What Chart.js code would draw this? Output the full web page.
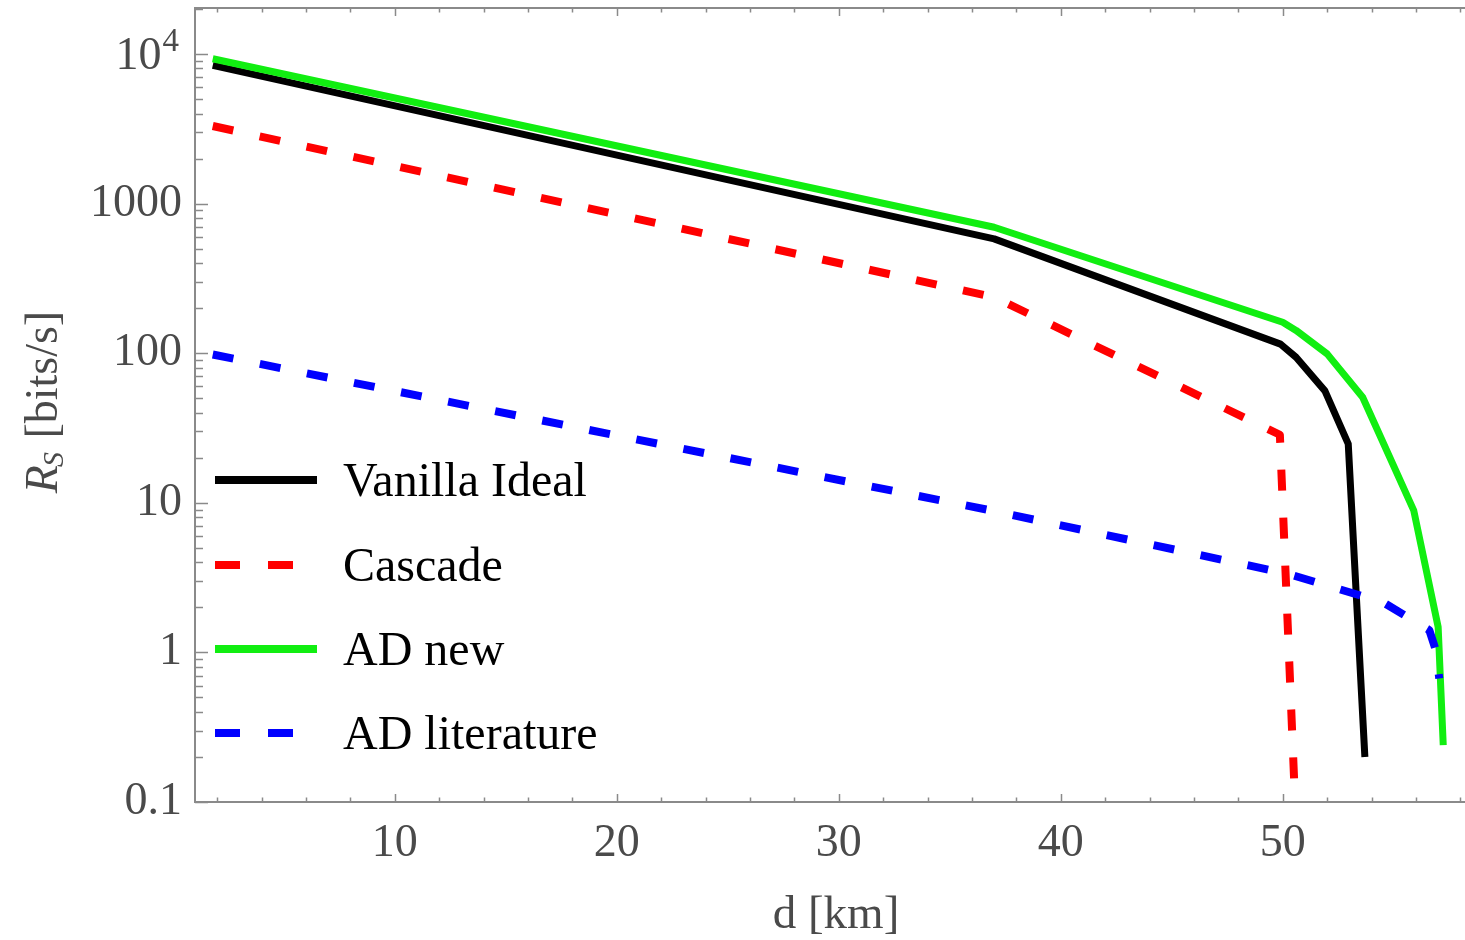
<!DOCTYPE html>
<html>
<head>
<meta charset="utf-8">
<script src="https://cdn.jsdelivr.net/npm/chart.js@4.4.0/dist/chart.umd.min.js"></script>
<style>
  html, body { margin: 0; padding: 0; background: #ffffff; overflow: hidden; }
  #wrap { position: relative; width: 1470px; height: 940px; }
</style>
</head>
<body>
<div id="wrap"><canvas id="c"></canvas></div>
<script>
// ---- data ----
const seriesNames = ['Vanilla Ideal', 'Cascade', 'AD new', 'AD literature'];

const vanillaD = [1.8, 37.0, 49.9, 50.6, 51.9, 52.95, 53.7];
const vanillaR = [8400, 581, 115, 94, 56, 24.8, 0.2];

const cascadeD = [1.8, 37.0, 49.87, 50.56];
const cascadeR = [3300, 237, 28.5, 0.095];

const adNewD = [1.8, 37.0, 50.0, 50.6, 52.0, 53.6, 55.9, 57.0, 57.23];
const adNewR = [9300, 695, 161, 142, 99, 50.8, 8.9, 1.48, 0.24];

const adLitD = [1.8, 37.0, 50.2, 54.5, 56.6, 56.9, 57.05];
const adLitR = [98, 8.8, 3.36, 2.17, 1.41, 1.03, 0.67];

const xMajorTicks = [10, 20, 30, 40, 50];
const xTickLabels = ['10', '20', '30', '40', '50'];
const xMinorStep = 2;
const yMajorTicks = [0.1, 1, 10, 100, 1000, 10000];
const yTickLabels = ['0.1', '1', '10', '100', '1000', ''];
// the top label is written as base with a raised exponent
const yPowerTick = 10000, yPowerBase = '10', yPowerExp = '4';

const xTitle = 'd [km]';
const yTitleMain = 'R';
const yTitleSub = 'S';
const yTitleRest = ' [bits/s]';

// ---- build ----
const toPts = (d, r) => d.map((v, i) => ({ x: v, y: r[i] }));
const SERIF = '"Liberation Serif", "DejaVu Serif", serif';
const TEXT_GRAY = '#4a4a4a';
const FRAME = '#8a8a8a';

const datasets = [
  { label: seriesNames[0], data: toPts(vanillaD, vanillaR), borderColor: '#000000', borderWidth: 7, borderDash: [], order: 4 },
  { label: seriesNames[1], data: toPts(cascadeD, cascadeR), borderColor: '#ff0000', borderWidth: 8, borderDash: [21, 27], order: 3 },
  { label: seriesNames[2], data: toPts(adNewD, adNewR), borderColor: '#11ee11', borderWidth: 7, borderDash: [], order: 2 },
  { label: seriesNames[3], data: toPts(adLitD, adLitR), borderColor: '#0000ff', borderWidth: 8, borderDash: [21, 27], order: 1 }
].map(ds => Object.assign(ds, {
  showLine: true, pointRadius: 0, pointHoverRadius: 0, fill: false,
  borderCapStyle: 'butt', borderJoinStyle: 'round', tension: 0, clip: 0
}));

const framePlugin = {
  id: 'framePlugin',
  afterDatasetsDraw(chart) {
    const { ctx, chartArea: a, scales: { x, y } } = chart;
    ctx.save();
    ctx.strokeStyle = FRAME;
    ctx.lineWidth = 2;
    ctx.beginPath();
    ctx.moveTo(a.right + 10, a.top); ctx.lineTo(a.left, a.top);
    ctx.lineTo(a.left, a.bottom); ctx.lineTo(a.right + 10, a.bottom);
    ctx.stroke();
    ctx.lineWidth = 1.5;
    ctx.beginPath();
    for (let v = xMinorStep; v <= x.max; v += xMinorStep) {
      const px = Math.round(x.getPixelForValue(v)) + 0.5;
      const major = xMajorTicks.includes(v);
      const L = major ? 8 : 4.5;
      ctx.moveTo(px, a.bottom); ctx.lineTo(px, a.bottom - L);
      ctx.moveTo(px, a.top); ctx.lineTo(px, a.top + L);
    }
    for (let k = -1; k <= 4; k++) {
      for (let m = 1; m <= 9; m++) {
        const v = m * Math.pow(10, k);
        if (v < y.min * 0.999 || v > y.max) continue;
        const py = Math.round(y.getPixelForValue(v)) + 0.5;
        const L = m === 1 ? 13 : 8;
        ctx.moveTo(a.left, py); ctx.lineTo(a.left + L, py);
      }
    }
    ctx.stroke();
    ctx.restore();
  },
  afterDraw(chart) {
    const { ctx, chartArea: a, scales: { y } } = chart;
    ctx.save();
    // power-of-ten tick label
    const py = y.getPixelForValue(yPowerTick);
    ctx.fillStyle = TEXT_GRAY;
    ctx.textBaseline = 'alphabetic';
    ctx.font = '33px ' + SERIF;
    const we = ctx.measureText(yPowerExp).width;
    ctx.textAlign = 'right';
    ctx.fillText(yPowerExp, a.left - 16, py - 3);
    ctx.font = '46px ' + SERIF;
    ctx.fillText(yPowerBase, a.left - 16 - we - 1, py + 15);
    // legend inside the plot
    const rowY = [480, 565, 649, 733];
    chart.data.datasets.forEach((ds, i) => {
      const yy = rowY[i];
      ctx.save();
      ctx.strokeStyle = ds.borderColor;
      ctx.lineWidth = 8;
      ctx.lineCap = 'butt';
      ctx.setLineDash(ds.borderDash.length ? [25, 28] : []);
      ctx.beginPath();
      ctx.moveTo(215, yy); ctx.lineTo(317, yy);
      ctx.stroke();
      ctx.restore();
      ctx.fillStyle = '#000000';
      ctx.font = '48px ' + SERIF;
      ctx.textAlign = 'left';
      ctx.textBaseline = 'alphabetic';
      ctx.fillText(ds.label, 343, yy + 16);
    });
    // axis titles
    ctx.fillStyle = TEXT_GRAY;
    ctx.font = '47px ' + SERIF;
    ctx.textAlign = 'center';
    ctx.textBaseline = 'alphabetic';
    ctx.fillText(xTitle, 836, 928);
    ctx.translate(57, 402);
    ctx.rotate(-Math.PI / 2);
    const fMain = 'italic 46px ' + SERIF;
    const fSub = 'italic 30px ' + SERIF;
    const fRest = '46px ' + SERIF;
    ctx.font = fMain; const w1 = ctx.measureText(yTitleMain).width;
    ctx.font = fSub; const w2 = ctx.measureText(yTitleSub).width;
    ctx.font = fRest; const w3 = ctx.measureText(yTitleRest).width;
    let sx = -(w1 + w2 + w3) / 2;
    ctx.textAlign = 'left';
    ctx.font = fMain; ctx.fillText(yTitleMain, sx, 0); sx += w1;
    ctx.font = fSub; ctx.fillText(yTitleSub, sx - 2, 6); sx += w2;
    ctx.font = fRest; ctx.fillText(yTitleRest, sx, 0);
    ctx.restore();
  }
};

new Chart(document.getElementById('c'), {
  type: 'scatter',
  data: { datasets },
  options: {
    responsive: true,
    maintainAspectRatio: false,
    animation: false,
    layout: { padding: { top: 8, right: 3, left: 0, bottom: 0 } },
    plugins: { legend: { display: false }, tooltip: { enabled: false } },
    scales: {
      x: {
        type: 'linear', position: 'bottom', min: 1, max: 58.3,
        grid: { display: false, drawTicks: false }, border: { display: false },
        afterBuildTicks: s => { s.ticks = xMajorTicks.map(v => ({ value: v })); },
        afterFit: s => { s.height = 138; s.paddingLeft = 0; s.paddingRight = 0; },
        ticks: {
          autoSkip: false, maxRotation: 0, padding: 14, color: TEXT_GRAY,
          font: { family: SERIF, size: 46 },
          callback: v => { const i = xMajorTicks.indexOf(v); return i >= 0 ? xTickLabels[i] : ''; }
        }
      },
      y: {
        type: 'logarithmic', position: 'left', min: 0.1, max: 20300,
        grid: { display: false, drawTicks: false }, border: { display: false },
        afterBuildTicks: s => { s.ticks = yMajorTicks.map(v => ({ value: v })); },
        afterFit: s => { s.width = 195; s.paddingTop = 0; s.paddingBottom = 0; },
        ticks: {
          autoSkip: false, padding: 13, color: TEXT_GRAY,
          font: { family: SERIF, size: 46 },
          callback: v => { const i = yMajorTicks.findIndex(t => Math.abs(t - v) / t < 1e-6); return i >= 0 ? yTickLabels[i] : ''; }
        }
      }
    }
  },
  plugins: [framePlugin]
});
</script>
</body>
</html>
